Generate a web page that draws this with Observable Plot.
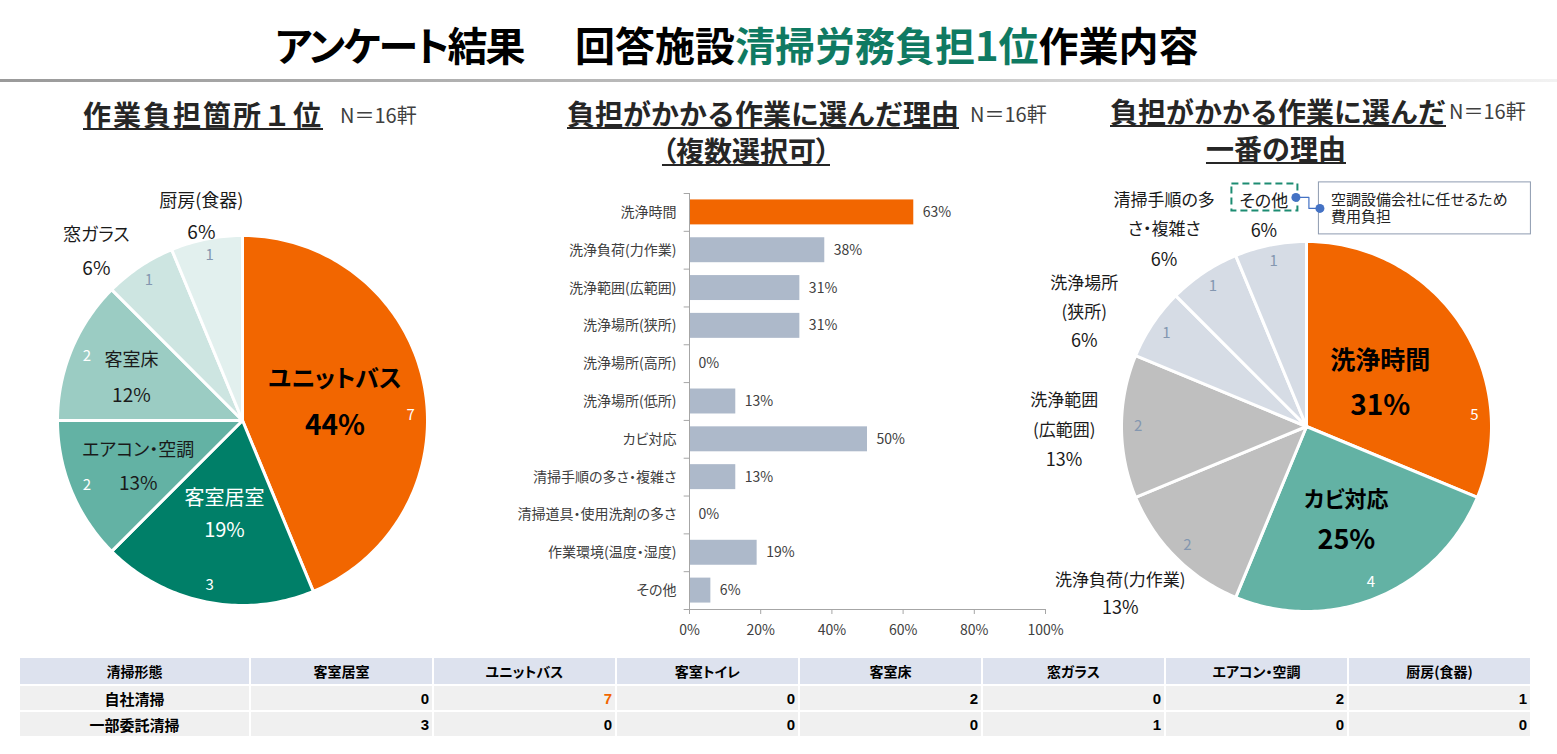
<!DOCTYPE html>
<html lang="ja">
<head>
<meta charset="utf-8">
<script src="https://cdn.jsdelivr.net/npm/d3@7"></script>
<script src="https://cdn.jsdelivr.net/npm/@observablehq/plot@0.6"></script>
<style>
  body { margin: 0; background: #fff; font-family: "Noto Sans CJK JP", "Noto Sans", sans-serif; font-feature-settings: "palt"; }
  #page { position: relative; width: 1557px; height: 754px; overflow: hidden; background: #fff; }
  .abs { position: absolute; white-space: nowrap; }
  .main { font-size: 40px; font-weight: bold; line-height: 40px; color: #000; }
  .main .hl { color: #0f7a62; }
  .rule { left: 0; top: 79px; width: 1557px; height: 3px; background: linear-gradient(to right, #9a9a9a, #c8c8c8 60%, #f2f2f2); }
  .sub { font-size: 28px; font-weight: bold; line-height: 28px; color: #262626; font-feature-settings: normal;
         text-decoration: underline; text-decoration-thickness: 2px; text-underline-offset: 2px; }
  .sub.p { font-feature-settings: "palt"; }
  .n { font-size: 20px; line-height: 20px; color: #404040; font-feature-settings: normal; }
  .chart { position: absolute; }
  table.grid { position: absolute; left: 18px; top: 656px; border-collapse: separate; border-spacing: 2px; }
  table.grid th, table.grid td { padding: 0; line-height: 1; }
  table.grid thead th { background: #dde2ee; height: 26px; font-size: 14px; font-weight: bold; text-align: center; color: #000; }
  table.grid tbody th { background: #f0f0f0; height: 24px; font-size: 15px; font-weight: bold; text-align: center; color: #000; }
  table.grid tbody td { background: #f0f0f0; height: 24px; font-size: 15px; font-weight: bold; text-align: right; padding-right: 3px;
         font-family: "Liberation Sans", Arial, sans-serif; color: #000; }
  table.grid td.hot { color: #f26600; }
</style>
</head>
<body>
<div id="page">
  <div class="abs main" style="left:275px; top:24px; letter-spacing:-2px;">アンケート結果</div>
  <div class="abs main" style="left:575px; top:24px;">回答施設<span class="hl">清掃労務負担1位</span>作業内容</div>
  <div class="abs rule"></div>

  <div class="abs sub" style="left:83px; top:100px; letter-spacing:2px;">作業負担箇所１位</div>
  <div class="abs n" id="n1" style="left:340px; top:105px;"></div>

  <div class="abs sub" style="left:567px; top:99px;">負担がかかる作業に選んだ理由</div>
  <div class="abs sub p" style="left:546px; width:400px; text-align:center; top:136px;">（複数選択可）</div>
  <div class="abs n" id="n2" style="left:970px; top:104px;"></div>

  <div class="abs sub" style="left:1110px; top:97px;">負担がかかる作業に選んだ</div>
  <div class="abs sub" style="left:1076px; width:400px; text-align:center; top:134px;">一番の理由</div>
  <div class="abs n" id="n3" style="left:1449px; top:101px;"></div>
</div>
<script>
// ---------- data ----------
const sampleSize = "N＝16軒";

// 作業負担箇所１位 (counts of facilities)
const locationNames = ["ユニットバス", "客室居室", "エアコン・空調", "客室床", "窓ガラス", "厨房(食器)"];
const locationCounts = [7, 3, 2, 2, 1, 1];
const locationPercents = [44, 19, 13, 12, 6, 6];

// 負担がかかる作業に選んだ理由 (multiple answers, %)
const reasonNames = ["洗浄時間", "洗浄負荷(力作業)", "洗浄範囲(広範囲)", "洗浄場所(狭所)", "洗浄場所(高所)", "洗浄場所(低所)",
  "カビ対応", "清掃手順の多さ・複雑さ", "清掃道具・使用洗剤の多さ", "作業環境(温度・湿度)", "その他"];
const reasonPercents = [63, 38, 31, 31, 0, 13, 50, 13, 0, 19, 6];
const reasonTicks = [0, 20, 40, 60, 80, 100];

// 一番の理由
const topReasonNames = ["洗浄時間", "カビ対応", "洗浄負荷(力作業)", "洗浄範囲(広範囲)", "洗浄場所(狭所)", "清掃手順の多さ・複雑さ", "その他"];
const topReasonCounts = [5, 4, 2, 2, 1, 1, 1];
const topReasonPercents = [31, 25, 13, 13, 6, 6, 6];
const otherReasonNote = "空調設備会社に任せるため\n費用負担";

// 清掃形態 table
const tableHeader = "清掃形態";
const tableColumns = ["客室居室", "ユニットバス", "客室トイレ", "客室床", "窓ガラス", "エアコン・空調", "厨房(食器)"];
const tableRowNames = ["自社清掃", "一部委託清掃"];
const inHouseCounts = [0, 7, 0, 2, 0, 2, 1];
const outsourcedCounts = [3, 0, 0, 0, 1, 0, 0];

// ---------- styles ----------
const ORANGE = "#f26600";
const FONT = "'Noto Sans CJK JP', 'Noto Sans', sans-serif";
const page = document.getElementById("page");
["n1", "n2", "n3"].forEach(id => document.getElementById(id).textContent = sampleSize);

const leftPieStyle = {
  colors: [ORANGE, "#007f68", "#63b2a4", "#9bccc3", "#cde5e1", "#e2f0ee"],
  labelRadius: [0.515, 0.50, 0.61, 0.65, 1.22, 1.14],
  labelTurn: [-2.6, 0, 0, 0, -6.6, 0],
  labelFill: ["#000", "#fff", "#1a1a1a", "#1a1a1a", "#1a1a1a", "#1a1a1a"],
  bold: [true, false, false, false, false, false],
  nameSize: [24, 20, 18, 18, 18, 18],
  pctSize: [28, 20, 19, 19, 19, 19],
  lineGap: [46, 32, 33, 35, 33, 32],
  breakAt: [0, 0, 0, 0, 0, 0],
  lineHeight: 1.6,
  countFill: ["#fff", "#fff", "#fff", "#fff", "#8497b0", "#8497b0"],
  countTurn: [9.5, 0, 0, 0, 0, 0]
};

const rightPieStyle = {
  colors: [ORANGE, "#63b2a4", "#bfbfbf", "#bfbfbf", "#d6dce5", "#d6dce5", "#d6dce5"],
  labelRadius: [0.48, 0.52, 1.34, 1.31, 1.36, 1.33, 1.18],
  labelTurn: [0, -2, 3.7, 0, -5.75, -1.6, 0],
  labelFill: ["#000", "#000", "#1a1a1a", "#1a1a1a", "#1a1a1a", "#1a1a1a", "#1a1a1a"],
  bold: [true, true, false, false, false, false, false],
  nameSize: [25, 22, 17, 17, 17, 17, 17],
  pctSize: [28, 27, 18, 18, 18, 18, 18],
  lineGap: [44, 39, 28, 29.5, 29, 30, 30],
  breakAt: [0, 0, 0, 4, 4, 6, 0],
  lineHeight: 29.5 / 17,
  countFill: ["#fff", "#fff", "#8497b0", "#8497b0", "#8497b0", "#8497b0", "#8497b0"],
  countTurn: [30, 0, 0, 0, 0, 0, 0]
};

// ---------- pie chart built from line polygons on linear x/y scales ----------
function pieChart({names, counts, percents, style, width, height, cx, cy, R, callout}) {
  const total = d3.sum(counts);
  let acc = 0;
  const slices = counts.map((c, i) => {
    const a0 = acc / total * 2 * Math.PI; acc += c;
    const a1 = acc / total * 2 * Math.PI;
    return {i, name: names[i], count: c, pct: percents[i], a0, a1, mid: (a0 + a1) / 2};
  });
  const deg = Math.PI / 180;

  const outline = slices.flatMap(s => {
    const n = Math.max(2, Math.ceil((s.a1 - s.a0) / deg));
    const pts = [{x: 0, y: 0}];
    for (let k = 0; k <= n; k++) {
      const a = s.a0 + (s.a1 - s.a0) * k / n;
      pts.push({x: Math.sin(a), y: Math.cos(a)});
    }
    pts.push({x: 0, y: 0});
    return pts.map(p => ({...p, slice: s.i, color: style.colors[s.i]}));
  });

  const nameLabels = [], pctLabels = [];
  slices.forEach(s => {
    const a = s.mid + style.labelTurn[s.i] * deg;
    const r = style.labelRadius[s.i];
    const lx = r * Math.sin(a), ly = r * Math.cos(a);
    const k = style.breakAt[s.i];
    const text = k ? s.name.slice(0, k) + "\n" + s.name.slice(k) : s.name;
    const lines = k ? 2 : 1;
    const gap = style.lineGap[s.i];
    const common = {fill: style.labelFill[s.i], bold: style.bold[s.i]};
    nameLabels.push({...common, name: s.name, x: lx, y: ly + gap / 2 / R, text, size: style.nameSize[s.i]});
    pctLabels.push({...common, x: lx, y: ly - lines * gap / 2 / R, text: s.pct + "%", size: style.pctSize[s.i]});
  });

  const countLabels = slices.map(s => {
    const a = s.mid + style.countTurn[s.i] * deg;
    return {x: 0.91 * Math.sin(a), y: 0.91 * Math.cos(a), text: String(s.count), fill: style.countFill[s.i]};
  });

  const textMarks = (rows, bold) => Plot.text(rows.filter(d => d.bold === bold), {
    x: "x", y: "y", text: "text", fontSize: "size", fill: "fill",
    fontWeight: bold ? "bold" : "normal", lineHeight: style.lineHeight
  });

  const marks = [
    Plot.line(outline, {x: "x", y: "y", z: "slice", fill: "color", stroke: "#fff", strokeWidth: 3, strokeLinejoin: "round"}),
    Plot.text(countLabels, {x: "x", y: "y", text: "text", fill: "fill", fontSize: 15}),
    textMarks(nameLabels, true), textMarks(nameLabels, false),
    textMarks(pctLabels, true), textMarks(pctLabels, false)
  ];

  if (callout) {
    // dashed frame round the label, a connector and a note box
    const lab = nameLabels.find(d => d.name === callout.name);
    const u = p => p / R;
    const ax = lab.x, ay = lab.y;
    marks.push(
      Plot.rect([lab], {x1: ax - u(33) + u(1), x2: ax + u(33) + u(1), y1: ay - u(13.5), y2: ay + u(13.5),
        fill: "none", stroke: "#1d8c72", strokeWidth: 2, strokeDasharray: "7,4"}),
      Plot.line([[ax + u(32), ay], [ax + u(45), ay], [ax + u(45), ay - u(11)], [ax + u(56), ay - u(11)]],
        {stroke: "#4472c4", strokeWidth: 1.2}),
      Plot.rect([lab], {x1: ax + u(55), x2: ax + u(267), y1: ay + u(15), y2: ay - u(37),
        fill: "#fff", stroke: "#8e9bb0", strokeWidth: 1}),
      Plot.dot([[ax + u(32), ay], [ax + u(56), ay - u(11)]], {r: 4.5, fill: "#4472c4"}),
      Plot.text([callout.note], {x: ax + u(67), y: ay - u(10.5), text: d => d, textAnchor: "start",
        fontSize: 15, fill: "#222", lineHeight: 1.17})
    );
  }

  return Plot.plot({
    width, height, margin: 0,
    style: {fontFamily: FONT, background: "transparent", overflow: "visible"},
    x: {domain: [-cx / R, (width - cx) / R], axis: null},
    y: {domain: [-(height - cy) / R, cy / R], axis: null},
    color: {type: "identity"},
    marks
  });
}

function place(node, left, top) {
  const wrap = document.createElement("div");
  wrap.className = "chart";
  wrap.style.left = left + "px";
  wrap.style.top = top + "px";
  wrap.appendChild(node);
  page.appendChild(wrap);
}

// left pie
place(pieChart({
  names: locationNames, counts: locationCounts, percents: locationPercents, style: leftPieStyle,
  width: 500, height: 470, cx: 242, cy: 260, R: 185
}), 0, 160);

// right pie
place(pieChart({
  names: topReasonNames, counts: topReasonCounts, percents: topReasonPercents, style: rightPieStyle,
  width: 557, height: 470, cx: 306, cy: 266, R: 185,
  callout: {name: "その他", note: otherReasonNote}
}), 1000, 160);

// ---------- bar chart ----------
const reasons = reasonNames.map((name, i) => ({name, value: reasonPercents[i]}));
const BW = 570, BH = 470, MT = 13, MB = 41, ML = 189, MR = 25;
const bandStep = (BH - MT - MB) / reasonNames.length;
const AXIS = "#a6a6a6";
const bars = Plot.plot({
  width: BW, height: BH, marginTop: MT, marginBottom: MB, marginLeft: ML, marginRight: MR,
  style: {fontFamily: FONT, background: "transparent", overflow: "visible"},
  x: {domain: [0, 100]},
  y: {domain: reasonNames, paddingInner: 0.34, paddingOuter: 0.17, round: false},
  color: {type: "identity"},
  marks: [
    Plot.barX(reasons, {x: "value", y: "name", fill: d => d.name === topReasonNames[0] ? ORANGE : "#adb9ca"}),
    Plot.ruleY(reasonNames, {y: d => d, x1: -1.5, x2: 0, dy: -bandStep / 2, stroke: AXIS}),
    Plot.ruleY(reasonNames.slice(-1), {y: d => d, x1: -1.5, x2: 100, dy: bandStep / 2, stroke: AXIS}),
    Plot.ruleX([0], {stroke: AXIS}),
    Plot.axisX({ticks: reasonTicks, tickFormat: d => d + "%", tickSize: 5, tickPadding: 11, fontSize: 14,
      stroke: AXIS, fill: "#404040", label: null}),
    Plot.axisY({tickSize: 0, tickPadding: 13, fontSize: 14, fill: "#404040", label: null}),
    Plot.text(reasons, {x: "value", y: "name", text: d => d.value + "%", dx: 9, textAnchor: "start",
      fontSize: 14, fill: "#404040"})
  ]
});
place(bars, 500, 180);

// ---------- table ----------
const table = document.createElement("table");
table.className = "grid";
const colgroup = document.createElement("colgroup");
[229, ...tableColumns.map(() => 181)].forEach(w => {
  const col = document.createElement("col");
  col.style.width = w + "px";
  colgroup.appendChild(col);
});
table.appendChild(colgroup);
const thead = table.createTHead();
const hr = thead.insertRow();
[tableHeader, ...tableColumns].forEach(t => {
  const th = document.createElement("th");
  th.textContent = t;
  hr.appendChild(th);
});
const tbody = table.createTBody();
[inHouseCounts, outsourcedCounts].forEach((vals, r) => {
  const tr = tbody.insertRow();
  const th = document.createElement("th");
  th.textContent = tableRowNames[r];
  tr.appendChild(th);
  const maxVal = d3.max(vals);
  vals.forEach(v => {
    const td = tr.insertCell();
    td.textContent = v;
    if (r === 0 && v === maxVal) td.className = "hot";
  });
});
page.appendChild(table);
</script>
</body>
</html>
